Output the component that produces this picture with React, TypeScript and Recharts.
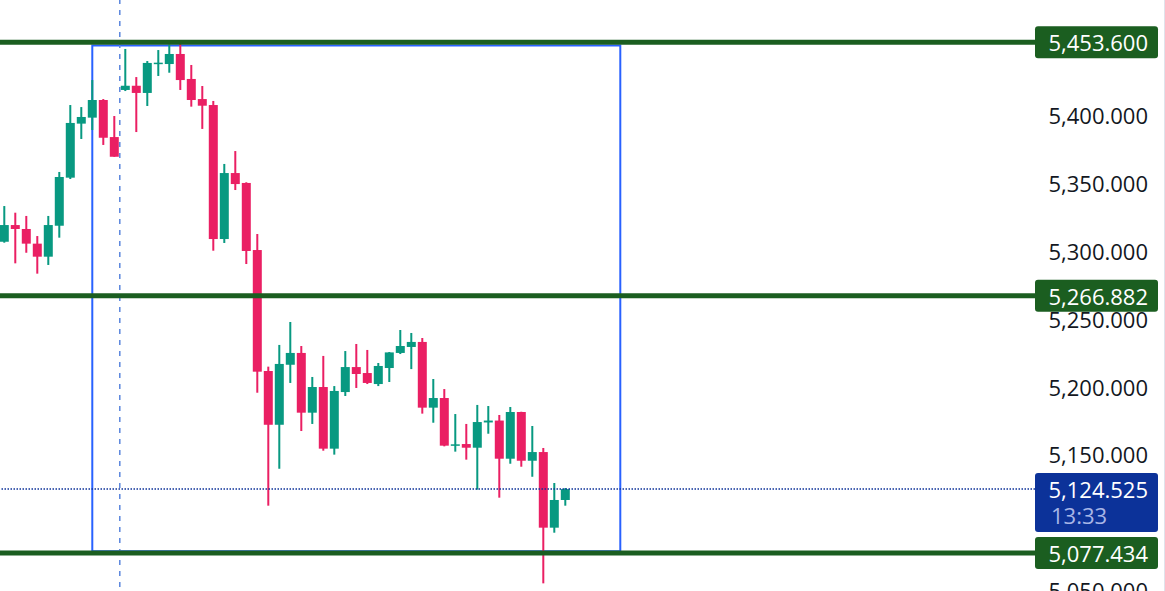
import React from 'react';
import { ComposedChart, Bar, XAxis, YAxis, ReferenceLine, ReferenceArea } from 'recharts';

const opens = [5306.7, 5319.0, 5316.1, 5305.3, 5295.7, 5318.5, 5353.9, 5393.7, 5398.1, 5411.1, 5383.8, 5418.5, 5421.6, 5416.3, 5438.1, 5437.6, 5445.0, 5426.6, 5411.8, 5407.4, 5308.7, 5357.3, 5350.0, 5300.6, 5211.5, 5171.9, 5216.1, 5224.8, 5180.8, 5199.7, 5154.3, 5196.0, 5214.4, 5210.0, 5201.9, 5213.7, 5224.8, 5229.2, 5232.9, 5184.5, 5191.6, 5156.5, 5157.7, 5155.0, 5173.6, 5175.0, 5146.9, 5181.3, 5145.4, 5151.8, 5096.1, 5116.5];
const highs = [5333.0, 5328.1, 5325.7, 5310.9, 5325.7, 5358.1, 5407.4, 5405.9, 5425.8, 5411.8, 5399.3, 5448.7, 5428.0, 5439.8, 5447.9, 5452.0, 5453.6, 5436.9, 5421.4, 5410.4, 5364.0, 5373.5, 5350.5, 5312.4, 5214.7, 5230.7, 5247.6, 5229.9, 5207.1, 5222.6, 5200.4, 5226.2, 5231.4, 5227.0, 5217.4, 5225.5, 5241.7, 5239.5, 5235.8, 5205.6, 5198.2, 5179.8, 5172.5, 5186.5, 5185.7, 5179.1, 5185.0, 5181.5, 5171.0, 5154.8, 5129.0, 5125.3];
const lows = [5306.0, 5290.8, 5298.6, 5283.2, 5289.6, 5309.7, 5352.9, 5382.4, 5389.0, 5378.0, 5369.3, 5417.7, 5387.5, 5406.7, 5428.8, 5431.2, 5418.5, 5406.2, 5389.8, 5300.1, 5305.8, 5344.8, 5290.3, 5195.5, 5112.3, 5139.5, 5202.7, 5167.3, 5172.5, 5152.8, 5149.9, 5193.1, 5199.0, 5201.9, 5200.4, 5203.4, 5224.0, 5212.9, 5180.1, 5173.4, 5156.0, 5152.1, 5146.2, 5124.1, 5165.3, 5118.2, 5143.2, 5141.0, 5133.6, 5055.1, 5092.4, 5112.3];
const closes = [5319.0, 5316.1, 5305.3, 5295.7, 5319.0, 5354.4, 5394.2, 5398.6, 5411.1, 5383.3, 5369.3, 5421.6, 5416.3, 5438.4, 5438.6, 5445.0, 5425.8, 5411.1, 5406.9, 5308.7, 5357.3, 5349.2, 5299.9, 5211.0, 5171.9, 5216.7, 5224.8, 5180.8, 5199.7, 5154.3, 5196.8, 5214.4, 5209.3, 5202.7, 5215.2, 5225.2, 5229.9, 5232.9, 5184.5, 5191.6, 5156.5, 5157.5, 5155.0, 5173.9, 5175.0, 5146.9, 5181.3, 5145.4, 5151.8, 5096.1, 5116.5, 5124.525];

// 5,100 and 5,450 sit fully under the price badges, so they are left out
const yTicks = [5050, 5150, 5200, 5250, 5300, 5350, 5400];
const levels = [5453.6, 5266.882, 5077.434];
const lastPrice = 5124.525;
const countdown = '13:33';

const UP = '#089981';
const DOWN = '#EA1F63';
const LEVEL = '#1B5E20';
const FONT = '"Open Sans", sans-serif';
const FS = 22;

const candles = opens.map((o, i) => ({
  i,
  open: o,
  high: highs[i],
  low: lows[i],
  close: closes[i],
  range: [lows[i], highs[i]],
}));

const fmt = (v: number) =>
  v.toLocaleString('en-US', { minimumFractionDigits: 3, maximumFractionDigits: 3 });

const Candle = (props: any) => {
  const { x, y, width, height, payload } = props;
  const { open, high, low, close } = payload;
  const k = height / (high - low);
  const cx = x + width / 2;
  const top = y + (high - Math.max(open, close)) * k;
  const bot = y + (high - Math.min(open, close)) * k;
  const color = close >= open ? UP : DOWN;
  return (
    <g>
      <rect x={cx - 1} y={y} width={2} height={height} fill={color} />
      <rect x={x} y={top} width={width} height={Math.max(bot - top, 1.5)} fill={color} />
    </g>
  );
};

// regular ticks first, then the level / last-price badges so they sit on top
const PriceTick = (props: any) => {
  const { x, y, payload } = props;
  const v = payload.value;
  if (v === lastPrice) {
    return (
      <g>
        <rect x={x} y={y - 16} width={123} height={59} rx={3} fill="#0C3299" />
        <text x={x + 113} y={y} textAnchor="end" dominantBaseline="central" fontSize={FS} fontFamily={FONT} fill="#ffffff">
          {fmt(v)}
        </text>
        <text x={x + 16} y={y + 26} textAnchor="start" dominantBaseline="central" fontSize={FS} fontFamily={FONT} fill="#A7B5E6">
          {countdown}
        </text>
      </g>
    );
  }
  if (levels.includes(v)) {
    return (
      <g>
        <rect x={x} y={y - 16} width={123} height={32} rx={3} fill={LEVEL} />
        <text x={x + 113} y={y} textAnchor="end" dominantBaseline="central" fontSize={FS} fontFamily={FONT} fill="#ffffff">
          {fmt(v)}
        </text>
      </g>
    );
  }
  return (
    <text x={x + 113} y={y} textAnchor="end" dominantBaseline="central" fontSize={FS} fontFamily={FONT} fill="#131722">
      {fmt(v)}
    </text>
  );
};

export default function App() {
  return (
    <div style={{ position: 'fixed', left: 0, top: 0, width: 1164, height: 591, overflow: 'hidden', background: '#ffffff', borderRight: '1px solid #E0E3EB' }}>
      <ComposedChart width={1165} height={620} data={candles} margin={{ top: 0, right: 0, bottom: 0, left: 0 }}>
        <XAxis dataKey="i" type="number" domain={[-0.39, 93.7]} hide allowDataOverflow />
        <YAxis
          orientation="right"
          width={130}
          domain={[5028.1, 5484.76]}
          allowDataOverflow
          ticks={[...yTicks, lastPrice, ...levels]}
          interval={0}
          tick={<PriceTick />}
          tickLine={false}
          axisLine={false}
          tickSize={0}
          tickMargin={0}
        />
        <ReferenceArea x1={8} x2={56} y1={5078.8} y2={5451.2} fill="none" stroke="#2962FF" strokeWidth={2} ifOverflow="visible" />
        <ReferenceLine x={10.5} stroke="#5A85DD" strokeWidth={1.5} strokeDasharray="5 6" />
        <ReferenceLine y={lastPrice} stroke="#0C3299" strokeWidth={1.5} strokeDasharray="1.5 1.5" />
        {levels.map((lv) => (
          <ReferenceLine key={lv} y={lv} stroke={LEVEL} strokeWidth={5} />
        ))}
        <Bar dataKey="range" barSize={9} shape={<Candle />} isAnimationActive={false} />
      </ComposedChart>
    </div>
  );
}
